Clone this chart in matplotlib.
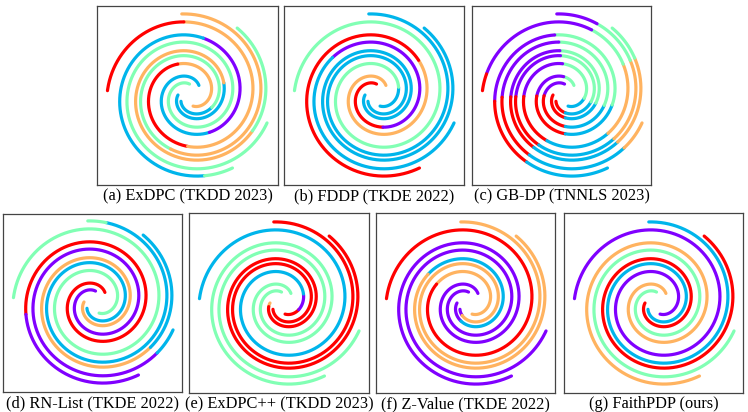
import numpy as np
import matplotlib.pyplot as plt

plt.rcParams['font.family'] = ['Liberation Serif', 'DejaVu Serif']

# five spiral arms, named by their true cluster colour (see FaithPDP panel)
arm_names = ['purple', 'blue', 'red', 'green', 'orange']
arm_r180 = [41.3, 49.3, 54.3, 63.0, 70.3]      # radius (px) where the arm crosses the left axis
arm_start = [-76, -146, -180, -266, -312]       # polar angle of inner tip, deg
arm_end = [537, 456, 415, 340, 300]             # polar angle of outer tip, deg
pitch = 42.0                                    # radial growth per turn, px
centre = (93.3, 90.0)

cluster_names = ['purple', 'blue', 'green', 'orange', 'red']
palette = dict(zip(cluster_names, plt.cm.rainbow(np.linspace(0, 1, 5))))

captions = ['(a) ExDPC (TKDD 2023)', '(b) FDDP (TKDE 2022)', '(c) GB-DP (TNNLS 2023)',
            '(d) RN-List (TKDE 2022)', '(e) ExDPC++ (TKDD 2023)', '(f) Z-Value (TKDE 2022)',
            '(g) FaithPDP (ours)']

# predicted labels along every arm: (angle from which on, cluster)
labels_a = {
    'purple': [(-76, 'orange'), (112, 'red'), (267, 'orange'), (455, 'red')],
    'blue': [(-146, 'blue'), (-30, 'green'), (250, 'orange')],
    'red': [(-180, 'blue'), (20, 'orange'), (330, 'green')],
    'green': [(-266, 'green')],
    'orange': [(-312, 'blue'), (-63, 'purple'), (77, 'blue'), (280, 'green')],
}
labels_b = {
    'purple': [(-76, 'blue'), (20, 'green')],
    'blue': [(-146, 'blue')],
    'red': [(-180, 'blue')],
    'green': [(-266, 'red'), (-80, 'purple'), (140, 'blue')],
    'orange': [(-312, 'orange'), (40, 'red')],
}
labels_c = {
    'purple': [(-76, 'blue'), (-10, 'green'), (95, 'purple'), (182, 'red'), (248, 'blue'),
               (318, 'orange'), (388, 'green'), (428, 'purple'), (525, 'red')],
    'blue': [(-146, 'red'), (-90, 'blue'), (-15, 'green'), (97, 'purple'), (182, 'red'),
             (242, 'blue'), (318, 'orange'), (388, 'green'), (426, 'purple')],
    'red': [(-180, 'red'), (-90, 'blue'), (-15, 'green'), (97, 'purple'), (182, 'red'),
            (239, 'blue'), (318, 'orange'), (388, 'green')],
    'green': [(-266, 'purple'), (-178, 'red'), (-90, 'blue'), (-15, 'green'), (97, 'purple'),
              (182, 'red'), (239, 'blue'), (318, 'orange')],
    'orange': [(-312, 'green'), (-265, 'purple'), (-178, 'red'), (-90, 'blue'), (-12, 'green'),
               (100, 'purple'), (185, 'red'), (240, 'blue')],
}
labels_d = {
    'purple': [(-76, 'green')],
    'blue': [(-146, 'blue'), (443, 'green')],
    'red': [(-180, 'orange'), (320, 'blue')],
    'green': [(-266, 'purple'), (320, 'blue')],
    'orange': [(-312, 'red'), (190, 'purple')],
}
labels_e = {
    'purple': [(-76, 'red'), (-22, 'purple'), (23, 'blue')],
    'blue': [(-146, 'red')],
    'red': [(-180, 'orange'), (-165, 'red')],
    'green': [(-266, 'green')],
    'orange': [(-312, 'green')],
}
labels_f = {
    'purple': [(-76, 'orange'), (150, 'red')],
    'blue': [(-146, 'purple'), (-120, 'orange')],
    'red': [(-180, 'purple'), (-115, 'blue'), (145, 'orange')],
    'green': [(-266, 'purple')],
    'orange': [(-312, 'purple')],
}
labels_g = {name: [(s, name)] for name, s in zip(arm_names, arm_start)}

panel_labels = [labels_a, labels_b, labels_c, labels_d, labels_e, labels_f, labels_g]

# panel boxes in pixels: left, top, right, bottom
boxes = [(97, 6, 278, 185), (284, 6, 464, 185), (472, 6, 651, 185),
         (3, 214, 182, 392), (189, 213, 369, 393), (376, 213, 555, 393), (564, 213, 743, 393)]
W, H = 748, 412


def arm_xy(k, t0, t1):
    th = np.arange(t0, t1 + 0.25, 0.5)
    r = arm_r180[k] + pitch * (th - 180) / 360.0
    rad = np.deg2rad(th)
    return centre[0] + r * np.cos(rad), centre[1] + r * np.sin(rad)


fig = plt.figure(figsize=(W / 100, H / 100), dpi=100)

for labels, box, cap in zip(panel_labels, boxes, captions):
    l, t, rgt, b = box
    ax = fig.add_axes([l / W, 1 - b / H, (rgt - l) / W, (b - t) / H])
    for k, name in enumerate(arm_names):
        segs = labels[name]
        for i, (t0, cl) in enumerate(segs):
            t1 = segs[i + 1][0] if i + 1 < len(segs) else arm_end[k]
            x, y = arm_xy(k, t0, t1)
            ax.plot(x, y, color=palette[cl], lw=2.3, solid_capstyle='round')
    ax.set_xlim(0, rgt - l)
    ax.set_ylim(0, b - t)
    ax.set_xticks([])
    ax.set_yticks([])
    for sp in ax.spines.values():
        sp.set_color('#444444')
        sp.set_linewidth(0.9)
    fig.text((l + rgt) / 2 / W, 1 - (b + 11) / H, cap, ha='center', va='center', fontsize=11.8)

fig.savefig('out.png', dpi=100)
